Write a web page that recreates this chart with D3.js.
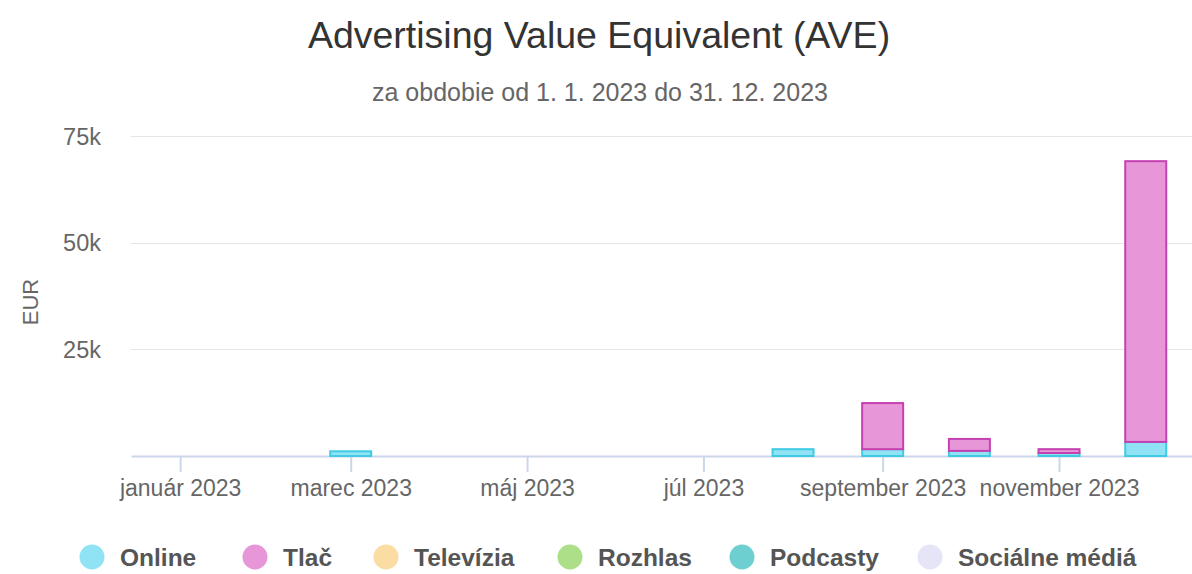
<!DOCTYPE html>
<html>
<head>
<meta charset="utf-8">
<script src="https://cdn.jsdelivr.net/npm/d3@7"></script>
<style>
  body { margin: 0; background: #fff; }
  svg { font-family: "Liberation Sans", Arial, sans-serif; }
</style>
</head>
<body>
<div id="chart"></div>
<script>
// monthly AVE values (EUR), Jan..Dec 2023
const months = ["2023-01","2023-02","2023-03","2023-04","2023-05","2023-06",
                "2023-07","2023-08","2023-09","2023-10","2023-11","2023-12"];
const online = [0, 0, 1100, 0, 0, 0, 0, 1600, 1600, 1200, 700, 3300];
const tlac   = [0, 0, 0, 0, 0, 0, 0, 0, 10800, 2800, 900, 65800];
const televizia = [0, 0, 0, 0, 0, 0, 0, 0, 0, 0, 0, 0];
const rozhlas   = [0, 0, 0, 0, 0, 0, 0, 0, 0, 0, 0, 0];
const podcasty  = [0, 0, 0, 0, 0, 0, 0, 0, 0, 0, 0, 0];
const socialne  = [0, 0, 0, 0, 0, 0, 0, 0, 0, 0, 0, 0];

const seriesNames = ["Online", "Tlač", "Televízia", "Rozhlas", "Podcasty", "Sociálne médiá"];
const seriesFill  = ["#8fe3f4", "#e797d8", "#fbdda4", "#acdf88", "#6dcfd0", "#e6e5f7"];
const seriesLine  = ["#3fcbe2", "#c540b1", "#f2c46a", "#7fc955", "#3fb5b6", "#c9c6ee"];
const yTicks = [25000, 50000, 75000];
const xTicks = ["2023-01","2023-03","2023-05","2023-07","2023-09","2023-11"];
const monthLabels = ["január","február","marec","apríl","máj","jún","júl","august","september","október","november","december"];

const width = 1192, height = 574;
const margin = {top: 136, right: 0, bottom: 118, left: 131};
const parse = d3.timeParse("%Y-%m");

const svg = d3.select("#chart").append("svg")
  .attr("width", width).attr("height", height);

const table = months.map((m, i) => ({
  date: parse(m),
  "Online": online[i], "Tlač": tlac[i], "Televízia": televizia[i],
  "Rozhlas": rozhlas[i], "Podcasty": podcasty[i], "Sociálne médiá": socialne[i]
}));

const x = d3.scaleTime()
  .domain([new Date(2022, 11, 15), new Date(2023, 11, 17)])
  .range([margin.left, width - margin.right]);
const y = d3.scaleLinear()
  .domain([0, 75000])
  .range([height - margin.bottom, margin.top]);

// title
svg.append("text")
  .attr("x", 599).attr("y", 48)
  .attr("text-anchor", "middle")
  .attr("fill", "#333")
  .style("font-size", "37.5px")
  .text("Advertising Value Equivalent (AVE)");
svg.append("text")
  .attr("x", 600).attr("y", 101)
  .attr("text-anchor", "middle")
  .attr("fill", "#666")
  .style("font-size", "25px")
  .text("za obdobie od 1. 1. 2023 do 31. 12. 2023");

// grid
svg.append("g")
  .selectAll("line")
  .data(yTicks)
  .join("line")
    .attr("x1", margin.left).attr("x2", width)
    .attr("y1", d => Math.round(y(d)) + 0.5).attr("y2", d => Math.round(y(d)) + 0.5)
    .attr("stroke", "#e6e6e6").attr("stroke-width", 1);

svg.append("g")
  .selectAll("text")
  .data(yTicks)
  .join("text")
    .attr("x", 101).attr("y", d => y(d) + 8.5)
    .attr("text-anchor", "end")
    .attr("fill", "#666")
    .style("font-size", "23.5px")
    .text(d => d3.format("~s")(d));

svg.append("text")
  .attr("transform", `translate(38,${(y(0) + y(75000)) / 2 + 6}) rotate(-90)`)
  .attr("text-anchor", "middle")
  .attr("fill", "#666")
  .style("font-size", "22px")
  .text("EUR");

// x axis
const xAxis = d3.axisBottom(x)
  .tickValues(xTicks.map(parse))
  .tickSize(16)
  .tickSizeOuter(0)
  .tickPadding(8)
  .tickFormat(d => monthLabels[d.getMonth()] + " " + d.getFullYear());

svg.append("g")
  .attr("transform", `translate(0,${y(0)})`)
  .call(xAxis)
  .call(g => g.select(".domain").attr("stroke", "#ccd6eb").attr("stroke-width", 2))
  .call(g => g.selectAll(".tick line").attr("stroke", "#ccd6eb").attr("stroke-width", 2))
  .call(g => g.selectAll(".tick text")
    .attr("fill", "#666")
    .style("font-size", "23px")
    .style("font-family", "'Liberation Sans', Arial, sans-serif"));

// bars
const stack = d3.stack().keys(seriesNames)(table);
const barW = 41;

svg.append("g")
  .selectAll("g")
  .data(stack)
  .join("g")
    .attr("fill", (d, i) => seriesFill[i])
    .attr("stroke", (d, i) => seriesLine[i])
    .attr("stroke-width", 2)
  .selectAll("rect")
  .data(d => d.filter(p => p[1] - p[0] > 0))
  .join("rect")
    .attr("x", d => x(d.data.date) - barW / 2)
    .attr("y", d => y(d[1]))
    .attr("width", barW)
    .attr("height", d => y(d[0]) - y(d[1]));

// legend
const legendX = [92, 255, 386, 570, 742, 930];
const legend = svg.append("g")
  .selectAll("g")
  .data(seriesNames)
  .join("g")
    .attr("transform", (d, i) => `translate(${legendX[i]},557)`);
legend.append("circle")
  .attr("r", 12.5)
  .attr("fill", (d, i) => seriesFill[i]);
legend.append("text")
  .attr("x", 28).attr("y", 9)
  .attr("fill", "#555")
  .attr("font-weight", "bold")
  .style("font-size", "24.5px")
  .text(d => d);
</script>
</body>
</html>
